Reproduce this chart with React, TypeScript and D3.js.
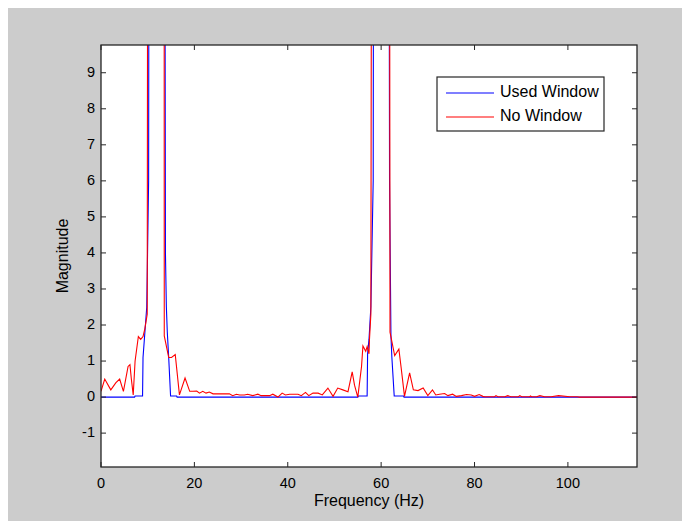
import React from "react";
import * as d3 from "d3";

const xTicks = [0, 20, 40, 60, 80, 100];
const yTicks = [-1, 0, 1, 2, 3, 4, 5, 6, 7, 8, 9];
const seriesNames = ["Used Window", "No Window"];

// Used Window (blue)
const usedFreq = [0, 7.2, 7.3, 8.9, 9.0, 9.4, 9.8, 10.2, 10.4, 12, 13.5, 13.8, 14.0, 14.2, 14.5, 14.9, 16.2, 16.3,
  55.0, 55.1, 57.0, 57.1, 57.4, 57.8, 58.3, 58.6, 60, 61.4, 61.8, 62.1, 62.3, 62.8, 64.8, 64.9, 114.8];
const usedMag = [0, 0, 0.03, 0.03, 1.1, 1.8, 2.5, 6, 30, 80, 30, 4, 2.5, 1.8, 1.1, 0.03, 0.03, 0,
  0, 0.03, 0.03, 1.2, 1.6, 2.5, 6, 40, 80, 40, 6, 1.7, 1.1, 0.03, 0.03, 0, 0];

// No Window (red)
const noFreq = [0, 0.8, 2.1, 3.2, 4.0, 4.8, 5.8, 6.2, 6.5, 6.9, 7.3, 8.0, 8.5, 9.0, 9.4, 9.9, 10.35,
  13.45, 13.55, 14.5, 15.1, 15.9, 16.8, 18.0, 19.0, 19.7, 20.5, 21.1, 21.8, 22.5, 23.2, 24.0, 27.5, 28.2, 29.0, 29.7,
  30.7, 31.4, 32.5, 33.6, 34.3, 36.1, 36.8, 37.9, 38.8, 39.5, 40.4, 42.2, 42.9, 43.8, 44.5, 45.4, 46.5, 47.4,
  48.6, 49.7, 50.7, 51.8, 52.9, 53.8, 54.3, 55.0, 55.8, 56.1, 56.7, 57.0, 57.4, 57.5, 57.8, 58.45,
  61.5, 61.9, 62.9, 63.8, 64.3, 65.0, 66.1, 66.9, 67.9, 69.0, 70.0, 71.0, 71.7, 72.5, 73.6, 74.3, 75.3, 76.1,
  77.2, 78.3, 79.3, 80.0, 81.0, 81.8, 82.2, 84.3, 84.6, 85.0, 86.5, 87.1, 87.8, 89.4, 89.7, 90.1, 91.8, 92.0,
  92.2, 93.3, 94.0, 95.0, 96.4, 98.0, 100.4, 102.0, 102.5, 114.8];
const noMag = [0.16, 0.5, 0.2, 0.4, 0.5, 0.16, 0.85, 0.9, 0.5, 0.06, 1.0, 1.68, 1.6, 1.68, 1.9, 2.3, 60,
  60, 1.7, 1.1, 1.1, 1.18, 0.06, 0.53, 0.16, 0.16, 0.17, 0.11, 0.16, 0.11, 0.14, 0.09, 0.09, 0.04, 0.08, 0.06,
  0.06, 0.08, 0.04, 0.08, 0.04, 0.04, 0.08, 0.0, 0.11, 0.06, 0.08, 0.08, 0.04, 0.13, 0.04, 0.11, 0.11, 0.06,
  0.25, 0.02, 0.25, 0.2, 0.15, 0.7, 0.33, 0.0, 0.85, 1.42, 1.27, 1.4, 1.2, 1.6, 2.3, 60,
  60, 1.8, 1.15, 1.33, 0.8, 0.02, 0.67, 0.2, 0.18, 0.25, 0.04, 0.2, 0.06, 0.08, 0.1, 0.04, 0.08, 0.02,
  0.04, 0.07, 0.06, 0.02, 0.07, 0.02, 0.01, 0.01, 0.04, 0.01, 0.01, 0.04, 0.01, 0.01, 0.04, 0.01, 0.01, 0.03,
  0.01, 0.01, 0.04, 0.01, 0.01, 0.04, 0.01, 0.01, 0, 0];

const colors = ["#0000ff", "#ff0000"];

export default function App() {
  const W = 682, H = 513;
  const L = 93, R = 629, T = 37, B = 459;
  const x = d3.scaleLinear().domain([0, 114.8]).range([L, R]);
  const y = d3.scaleLinear().domain([-1.94, 9.77]).range([B, T]);
  const line = d3.line<[number, number]>().x(d => x(d[0])).y(d => y(d[1]));
  const used = usedFreq.map((f, i) => [f, usedMag[i]] as [number, number]);
  const no = noFreq.map((f, i) => [f, noMag[i]] as [number, number]);
  const font = "'Liberation Sans', Arial, Helvetica, sans-serif";
  const tk = 5;
  const axisColor = "#262626";
  return (
    <svg width={W} height={H} style={{ display: "block", background: "#cccccc" }} fontFamily={font}>
      <defs>
        <clipPath id="plotclip">
          <rect x={L} y={T} width={R - L} height={B - T} />
        </clipPath>
      </defs>
      <rect x={L} y={T} width={R - L} height={B - T} fill="#ffffff" />
      <g clipPath="url(#plotclip)" fill="none" strokeWidth={1.1}>
        <path d={line(used) || ""} stroke={colors[0]} />
        <path d={line(no) || ""} stroke={colors[1]} />
      </g>
      <g stroke={axisColor} strokeWidth={1}>
        {xTicks.map(t => (
          <g key={"xt" + t}>
            <line x1={x(t)} x2={x(t)} y1={B} y2={B - tk} />
            <line x1={x(t)} x2={x(t)} y1={T} y2={T + tk} />
          </g>
        ))}
        {yTicks.map(t => (
          <g key={"yt" + t}>
            <line x1={L} x2={L + tk} y1={y(t)} y2={y(t)} />
            <line x1={R} x2={R - tk} y1={y(t)} y2={y(t)} />
          </g>
        ))}
      </g>
      <rect x={L} y={T} width={R - L} height={B - T} fill="none" stroke={axisColor} strokeWidth={1.3} />
      <g fontSize={14.5} fill="#000">
        {xTicks.map(t => (
          <text key={"xl" + t} x={x(t)} y={B + 17} textAnchor="middle" dominantBaseline="middle">{t}</text>
        ))}
        {yTicks.map(t => (
          <text key={"yl" + t} x={L - 6} y={y(t)} textAnchor="end" dominantBaseline="middle">{t}</text>
        ))}
      </g>
      <text x={(L + R) / 2} y={494} textAnchor="middle" dominantBaseline="middle" fontSize={16}>Frequency (Hz)</text>
      <text transform={`translate(56,${(T + B) / 2}) rotate(-90)`} textAnchor="middle" dominantBaseline="middle" fontSize={16}>Magnitude</text>
      <g>
        <rect x={429} y={69} width={167} height={54} fill="#ffffff" stroke={axisColor} strokeWidth={1.2} />
        {seriesNames.map((n, i) => (
          <g key={n}>
            <line x1={438} x2={486} y1={85 + i * 24} y2={85 + i * 24} stroke={colors[i]} strokeWidth={1.1} />
            <text x={492} y={85 + i * 24} dominantBaseline="middle" fontSize={16}>{n}</text>
          </g>
        ))}
      </g>
    </svg>
  );
}
